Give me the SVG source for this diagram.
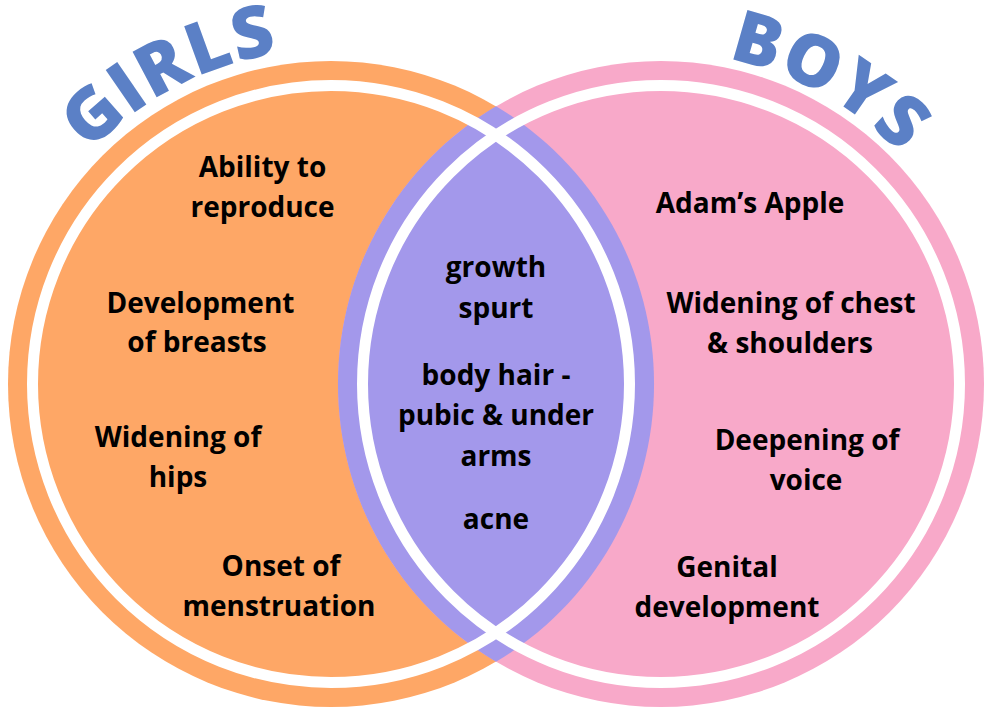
<svg xmlns="http://www.w3.org/2000/svg" width="993" height="708" viewBox="0 0 993 708">
<style>
.lbl{font-family:"Open Sans","Liberation Sans",sans-serif;font-weight:700;font-size:28px;fill:#000;text-anchor:middle}
.ttl{font-family:"Open Sans","Liberation Sans",sans-serif;font-weight:800;font-size:72px;letter-spacing:1.5px;fill:#5B80C6;text-anchor:middle}
.ring{fill:none;stroke:#fff;stroke-width:11}
</style>
<defs>
<path id="arcGirls" d="M 11.5 283.3 A 335 335 0 0 1 431.7 64.5"/>
<path id="arcBoys" d="M 569.5 64.9 A 332 332 0 0 1 980.1 292.5"/>
</defs>
<rect width="993" height="708" fill="#fff"/>
<g id="girls">
<circle cx="331" cy="384" r="323" fill="#FEA766"/>
</g>
<g id="boys">
<circle cx="661" cy="384" r="323" fill="#F8A9C9"/>
</g>
<g id="both">
<path d="M 496 106.3 A 323 323 0 0 1 496 661.7 A 323 323 0 0 1 496 106.3 Z" fill="#A398EB"/>
</g>
<g id="rings">
<circle class="ring" cx="331" cy="384" r="298.5"/>
<circle class="ring" cx="661" cy="384" r="298.5"/>
</g>
<g id="titles">
<text class="ttl"><textPath href="#arcGirls" startOffset="50%">GIRLS</textPath></text>
<text class="ttl"><textPath href="#arcBoys" startOffset="50%">BOYS</textPath></text>
</g>
<g id="girls-labels">
<text class="lbl" x="262.5" y="177">Ability to</text>
<text class="lbl" x="262.5" y="217">reproduce</text>
<text class="lbl" x="200.5" y="313">Development</text>
<text class="lbl" x="197" y="352">of breasts</text>
<text class="lbl" x="178" y="447">Widening of</text>
<text class="lbl" x="178" y="487">hips</text>
<text class="lbl" x="281" y="576">Onset of</text>
<text class="lbl" x="279" y="616">menstruation</text>
</g>
<g id="both-labels">
<text class="lbl" x="496" y="277">growth</text>
<text class="lbl" x="496" y="318">spurt</text>
<text class="lbl" x="496" y="385">body hair -</text>
<text class="lbl" x="496" y="425">pubic &amp; under</text>
<text class="lbl" x="496" y="466">arms</text>
<text class="lbl" x="496" y="529">acne</text>
</g>
<g id="boys-labels">
<text class="lbl" x="750" y="213">Adam’s Apple</text>
<text class="lbl" x="791" y="313">Widening of chest</text>
<text class="lbl" x="790" y="353">&amp; shoulders</text>
<text class="lbl" x="807" y="450">Deepening of</text>
<text class="lbl" x="806" y="490">voice</text>
<text class="lbl" x="727" y="577">Genital</text>
<text class="lbl" x="727" y="617">development</text>
</g>
</svg>
